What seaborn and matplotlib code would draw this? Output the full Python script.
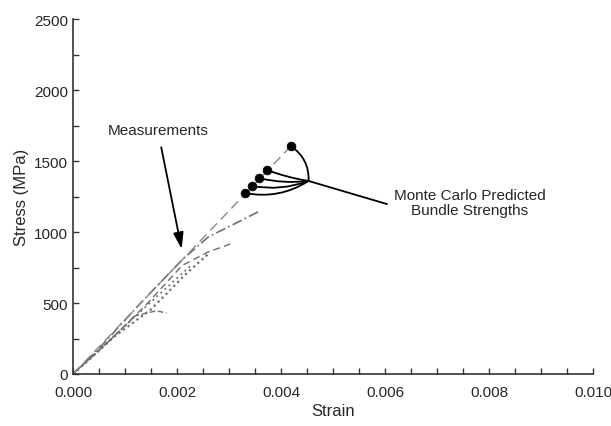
import numpy as np
import pandas as pd
import matplotlib
matplotlib.use("Agg")
import matplotlib.pyplot as plt
import seaborn as sns

# measured stress-strain curves (strain, MPa)
meas_1_strain = [0.0, 0.0005, 0.0013, 0.0021, 0.0026, 0.0032, 0.0036]
meas_1_stress = [0, 180, 500, 805, 965, 1075, 1150]
meas_2_strain = [0.0, 0.0006, 0.0014, 0.0021, 0.0026, 0.0031]
meas_2_stress = [0, 200, 485, 765, 860, 925]
meas_3_strain = [0.0, 0.0008, 0.0015, 0.0022, 0.0026]
meas_3_stress = [0, 265, 455, 715, 845]
meas_4_strain = [0.0, 0.0007, 0.0012, 0.0016, 0.0018]
meas_4_stress = [0, 235, 410, 445, 430]
meas_5_strain = [0.0, 0.0004, 0.0010, 0.0017, 0.0023]
meas_5_stress = [0, 130, 340, 575, 775]

# Monte Carlo predicted bundle strengths
mc_strain = [0.00331, 0.00344, 0.00358, 0.00373, 0.00419]
mc_stress = [1275, 1325, 1380, 1437, 1605]
mc_rad = [0.2, 0.14, 0.09, 0.05, -0.28]

hub = (0.00453, 1360)
leader_end = (0.00604, 1197)

x_ticks = [0.000, 0.002, 0.004, 0.006, 0.008, 0.010]
y_ticks = [0, 500, 1000, 1500, 2000, 2500]

sns.set_style("ticks")
plt.rcParams['font.family'] = ['Liberation Sans', 'DejaVu Sans']

fig = plt.figure(figsize=(6.11, 4.27), dpi=100)
ax = fig.add_axes([0.1195, 0.1218, 0.851, 0.831])

grey = "#6e6e6e"
curves = [
    (meas_1_strain, meas_1_stress, (0, (6, 2, 1, 2)), 1.2),
    (meas_2_strain, meas_2_stress, (0, (5, 3)), 1.0),
    (meas_3_strain, meas_3_stress, (0, (1, 1.5)), 1.6),
    (meas_4_strain, meas_4_stress, (0, (4, 2)), 1.0),
    (meas_5_strain, meas_5_stress, (0, (1, 2)), 1.3),
]
for xs, ys, ls, lw in curves:
    df = pd.DataFrame({"strain": xs, "stress": ys})
    sns.lineplot(data=df, x="strain", y="stress", sort=False, color=grey,
                 linewidth=lw, linestyle=ls, ax=ax)

# dashed elastic line through predictions
df_el = pd.DataFrame({"strain": [0.0, mc_strain[-1]], "stress": [0, mc_stress[-1]]})
sns.lineplot(data=df_el, x="strain", y="stress", color="#8a8a8a",
             linewidth=1.0, linestyle=(0, (7, 4)), ax=ax)

sns.scatterplot(x=mc_strain, y=mc_stress, color="black", s=40, zorder=5, ax=ax,
                edgecolor="black")

for xs, ys, r in zip(mc_strain, mc_stress, mc_rad):
    ax.annotate("", xy=hub, xytext=(xs, ys),
                arrowprops=dict(arrowstyle="-", color="black", lw=1.3,
                                connectionstyle=f"arc3,rad={r}",
                                shrinkA=0, shrinkB=0))
ax.plot([hub[0], leader_end[0]], [hub[1], leader_end[1]], color="black", lw=1.3)

ax.text(0.00763, 1211, "Monte Carlo Predicted\nBundle Strengths", ha="center",
        va="center", fontsize=11, linespacing=1.1)

ax.annotate("Measurements", xy=(0.00209, 880), xytext=(0.00163, 1718),
            ha="center", va="center", fontsize=11,
            arrowprops=dict(arrowstyle="-|>,head_length=0.9,head_width=0.28",
                            color="black", lw=1.3, shrinkA=5, shrinkB=0))

ax.set_xlim(0, 0.010)
ax.set_ylim(0, 2500)
ax.set_xticks(x_ticks)
ax.set_xticklabels([f"{v:.3f}" for v in x_ticks])
ax.set_yticks(y_ticks)
ax.set_xticks(np.arange(0, 0.01001, 0.0005), minor=True)
ax.set_yticks(np.arange(0, 2501, 250), minor=True)
ax.tick_params(which="both", direction="in", length=4, width=1, labelsize=11,
               color="#333333")
ax.tick_params(axis="x", pad=8)
ax.set_xlabel("Strain", fontsize=12, labelpad=3)
ax.set_ylabel("Stress (MPa)", fontsize=12)
for s in ["top", "right"]:
    ax.spines[s].set_visible(False)
for s in ["left", "bottom"]:
    ax.spines[s].set_linewidth(1.2)
    ax.spines[s].set_color("#333333")

fig.savefig("out.png", dpi=100, facecolor="white")
